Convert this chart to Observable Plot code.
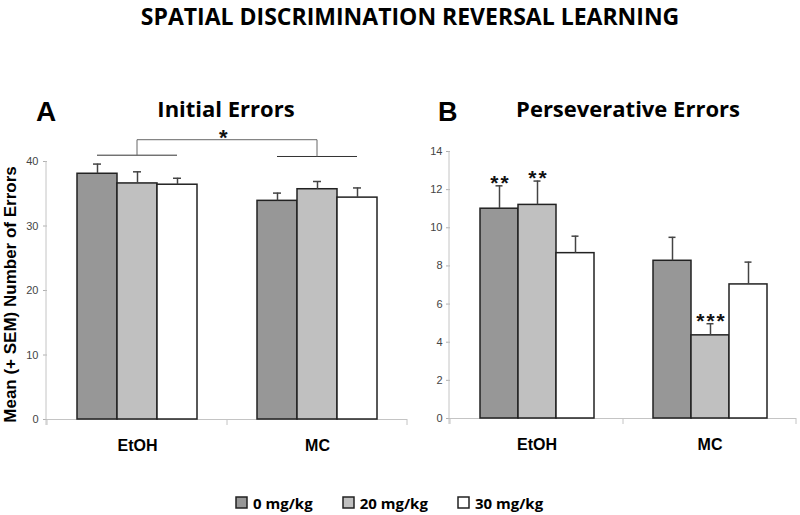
<!DOCTYPE html>
<html>
<head>
<meta charset="utf-8">
<script src="https://cdn.jsdelivr.net/npm/d3@7"></script>
<script src="https://cdn.jsdelivr.net/npm/@observablehq/plot@0.6"></script>
<style>
  body { margin: 0; background: #fff; }
  #wrap { position: relative; width: 800px; height: 515px; overflow: hidden; background: #fff; }
  .abs { position: absolute; white-space: nowrap; color: #000; }
  .os { font-family: "Open Sans", sans-serif; font-weight: 700; }
  .ls { font-family: "Liberation Sans", Arial, sans-serif; font-weight: 700; }
  #legend .lg-swatch { margin-right: 30px; }
  #legend .lg-swatch > svg { margin-right: 6px; overflow: visible; }
  #legend .lg-swatch > svg rect { stroke: #222; stroke-width: 1.5px; }
</style>
</head>
<body>
<div id="wrap">
  <div class="abs os" style="left:0;top:0;width:780px;padding-left:20px;text-align:center;font-size:23px;line-height:32px;">SPATIAL DISCRIMINATION REVERSAL LEARNING</div>
  <div class="abs ls" style="left:36px;top:98px;font-size:28px;line-height:28px;">A</div>
  <div class="abs os" style="left:76px;top:97px;width:300px;text-align:center;font-size:22px;line-height:22px;">Initial Errors</div>
  <div class="abs ls" style="left:438px;top:99px;font-size:27px;line-height:27px;">B</div>
  <div class="abs os" style="left:478px;top:97px;width:300px;text-align:center;font-size:22px;line-height:22px;">Perseverative Errors</div>
  <div class="abs ls" style="left:-140px;top:286px;width:300px;height:17px;text-align:center;font-size:17px;line-height:17px;transform:rotate(-90deg);transform-origin:50% 50%;">Mean (+ SEM) Number of Errors</div>
  <div id="panelA" class="abs" style="left:0;top:120px;width:410px;height:350px;"></div>
  <div id="panelB" class="abs" style="left:400px;top:120px;width:400px;height:350px;"></div>
  <div id="legend" class="abs" style="left:236px;top:486px;"></div>
</div>
<script>
// ---- data ----
const groups = ["EtOH", "MC"];
const doses = ["0 mg/kg", "20 mg/kg", "30 mg/kg"];
const doseColors = ["#979797", "#c0c0c0", "#ffffff"];
const initialMean = [38.1, 36.6, 36.4, 33.9, 35.7, 34.4];
const initialSem = [1.5, 1.8, 1.0, 1.2, 1.2, 1.5];
const persevMean = [11.0, 11.2, 8.67, 8.27, 4.36, 7.03];
const persevSem = [1.2, 1.25, 0.89, 1.23, 0.61, 1.17];
const persevStars = ["**", "**", "", "", "***", ""];
const initialTicks = [0, 10, 20, 30, 40];
const persevTicks = [0, 2, 4, 6, 8, 10, 12, 14];
const groupStar = "*";

function rowsOf(mean, sem, stars) {
  return groups.flatMap((g, gi) => doses.map((d, di) => ({
    group: g, dose: d, mean: mean[gi * 3 + di], sem: sem[gi * 3 + di],
    star: stars ? stars[gi * 3 + di] : ""
  })));
}

function panel(rows, o) {
  const marks = [
    Plot.axisY(o.ticks, {tickSize: 4, tickPadding: o.tickPadding, fontSize: 11, fill: "#444", stroke: "#b0b0b0", label: null}),
    Plot.axisFx({anchor: "bottom", tickSize: 0, tickPadding: 20, fontSize: 16, fontWeight: "bold", fill: "#000", label: null}),
    Plot.ruleY([0], {stroke: "#c4c4c4"}),
    Plot.barY(rows, {fx: "group", x: "dose", y: "mean", fill: "dose", stroke: "#222", strokeWidth: 1.5}),
    Plot.ruleX(rows, {fx: "group", x: "dose", y1: "mean", y2: d => d.mean + d.sem, stroke: "#444", strokeWidth: 1.5}),
    Plot.tickY(rows, {fx: "group", x: "dose", y: d => d.mean + d.sem, stroke: "#444", strokeWidth: 1.5, insetLeft: o.capInset, insetRight: o.capInset})
  ];
  if (o.stars) marks.push(Plot.text(rows.filter(d => d.star), {fx: "group", x: "dose", y: d => d.mean + d.sem, text: "star", fontSize: 21, fontWeight: "bold", lineAnchor: "middle", dy: -2.5, dx: 1, fill: "#111"}));
  if (o.extra) marks.push(...o.extra);
  return Plot.plot({
    width: o.width, height: 350,
    marginLeft: o.marginLeft, marginRight: o.marginRight, marginTop: o.marginTop, marginBottom: o.marginBottom,
    style: {fontFamily: "'Liberation Sans', Arial, sans-serif", background: "transparent", overflow: "visible"},
    fx: {domain: groups, padding: 0, label: null},
    x: {domain: doses, paddingInner: 0, paddingOuter: o.paddingOuter, axis: null},
    y: {domain: [0, o.yMax], label: null},
    color: {type: "ordinal", domain: doses, range: doseColors},
    marks
  });
}

function decorate(chart, bracket) {
  const fx = chart.scale("fx"), x = chart.scale("x"), y = chart.scale("y");
  const svg = d3.select(chart);
  const g = svg.append("g").attr("stroke", "#c4c4c4").attr("stroke-width", 1).attr("fill", "none");
  const y0 = y.apply(0), yTop = y.apply(y.domain[1]);
  const left = fx.range[0], right = fx.range[1];
  g.append("line").attr("x1", left).attr("x2", left).attr("y1", yTop).attr("y2", y0 + 6);
  const bounds = fx.domain.map(v => fx.apply(v)).concat([right]);
  for (const b of bounds) g.append("line").attr("x1", b).attr("x2", b).attr("y1", y0).attr("y2", y0 + 6);
  if (bracket) {
    const bg = svg.append("g").attr("stroke", "#555").attr("stroke-width", 1).attr("fill", "none");
    const barC = (grp, d) => fx.apply(grp) + (x.apply(d) - x.range[0]) + x.bandwidth / 2;
    const grpC = grp => fx.apply(grp) + fx.bandwidth / 2;
    bracket.under.forEach((lvl, i) => {
      const grp = groups[i];
      bg.append("line").attr("x1", barC(grp, doses[0])).attr("x2", barC(grp, doses[2]))
        .attr("y1", y.apply(lvl)).attr("y2", y.apply(lvl)).attr("stroke", "#333");
    });
    const yt = y.apply(bracket.top);
    bg.append("path").attr("stroke", "#666").attr("d",
      `M${grpC(groups[0])},${y.apply(bracket.under[0])}V${yt}H${grpC(groups[1])}V${y.apply(bracket.under[1])}`);
  }
}

const bracketA = {under: [40.9, 40.7], top: 43.3};

const chartA = panel(rowsOf(initialMean, initialSem), {
  width: 410, marginLeft: 46, marginRight: 3, marginTop: 41, marginBottom: 51,
  paddingOuter: 0.74, yMax: 40, ticks: initialTicks, tickPadding: 5, capInset: 16,
  extra: [Plot.text([groupStar], {fx: () => groups[0], frameAnchor: "right", y: () => bracketA.top, text: d => d, fontSize: 22, fontWeight: "bold", lineAnchor: "middle", dy: -2.7, fill: "#111"})]
});
decorate(chartA, bracketA);
document.getElementById("panelA").append(chartA);

const chartB = panel(rowsOf(persevMean, persevSem, persevStars), {
  width: 400, marginLeft: 49, marginRight: 4, marginTop: 31, marginBottom: 52,
  paddingOuter: 0.765, yMax: 14, ticks: persevTicks, tickPadding: 4, capInset: 15.5, stars: true
});
d3.select(chartB).selectAll('g[aria-label="text"] text').style("letter-spacing", "2px");
decorate(chartB, null);
document.getElementById("panelB").append(chartB);

const legend = Plot.legend({
  color: {type: "ordinal", domain: doses, range: doseColors},
  swatchSize: 11, className: "lg",
  style: {fontFamily: "'Open Sans', sans-serif", fontWeight: "700", fontSize: "15px", color: "#000", marginBottom: "0"}
});
document.getElementById("legend").append(legend);
</script>
</body>
</html>
